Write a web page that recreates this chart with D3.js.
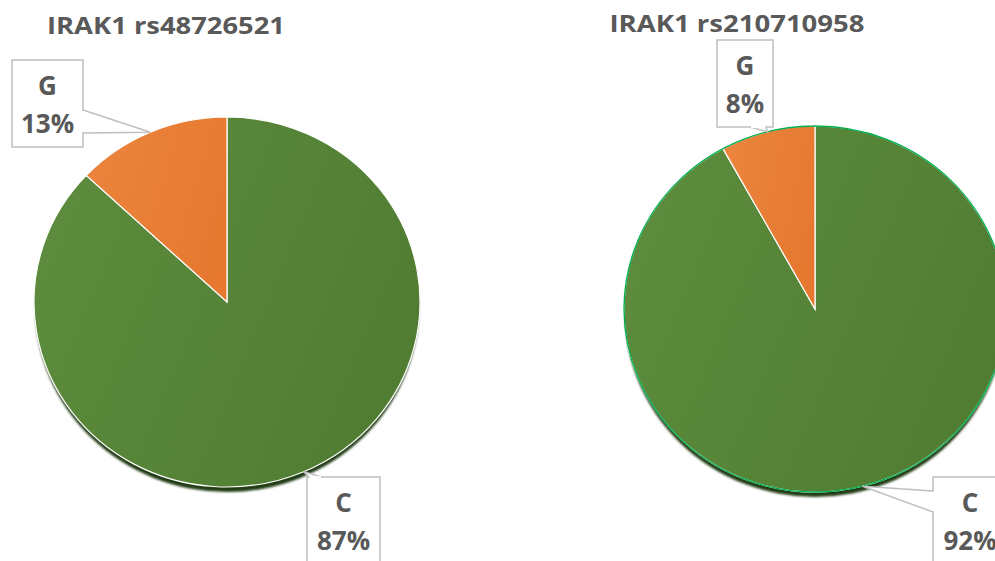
<!DOCTYPE html>
<html>
<head>
<meta charset="utf-8">
<script src="https://cdnjs.cloudflare.com/ajax/libs/d3/7.8.5/d3.min.js"></script>
<style>
  body { margin: 0; background: #fff; }
  svg { display: block; }
  text { font-family: "Open Sans", Lato, sans-serif; font-weight: bold; fill: #595959; }
</style>
</head>
<body>
<script>
// data
var titles = ["IRAK1 rs48726521", "IRAK1 rs210710958"];
var alleles = ["C", "G"];
var valuesLeft = [87, 13];
var valuesRight = [92, 8];

var W = 995, H = 561;
var svg = d3.select("body").append("svg").attr("width", W).attr("height", H);
var defs = svg.append("defs");

function grad(id, c1, c2) {
    var g = defs.append("linearGradient").attr("id", id)
        .attr("x1", "0%").attr("y1", "30%").attr("x2", "100%").attr("y2", "70%");
    g.append("stop").attr("offset", "0%").attr("stop-color", c1);
    g.append("stop").attr("offset", "100%").attr("stop-color", c2);
}
grad("gGreen", "#5d8c3e", "#4f7c31");
grad("gOrange", "#eb843d", "#e6782f");
defs.append("filter").attr("id", "soft").append("feGaussianBlur").attr("stdDeviation", 0.8);

var fills = { C: "url(#gGreen)", G: "url(#gOrange)" };

// layout per chart (positions only)
var charts = [
    { title: titles[0], values: valuesLeft, cx: 227, cy: 302, rx: 193, ry: 185, tx: 166, ty: 34, tw: 238, outline: "#ffffff",
      boxes: {
        G: { x: 12, y: 60, w: 71, h: 87, side: "right", b1: 110, b2: 133 },
        C: { x: 307, y: 477, w: 73, h: 100, side: "top", b1: 309, b2: 322 }
      } },
    { title: titles[1], values: valuesRight, cx: 815, cy: 309, rx: 191, ry: 183, tx: 737, ty: 32, tw: 255, outline: "#00b050",
      boxes: {
        G: { x: 717, y: 40, w: 56, h: 87, side: "bottom", b1: 750, b2: 766 },
        C: { x: 933, y: 477, w: 80, h: 100, side: "left", b1: 491, b2: 512 }
      } }
];

var pie = d3.pie().sort(null).value(function(d) { return d.v; });

charts.forEach(function(ch) {
    var k = ch.ry / ch.rx;
    var data = alleles.map(function(a, i) { return { a: a, v: ch.values[i] }; });
    var arcs = pie(data);
    var arc = d3.arc().innerRadius(0).outerRadius(ch.rx);

    svg.append("text").attr("x", ch.tx).attr("y", ch.ty)
        .attr("text-anchor", "middle").style("font-size", "24px")
        .attr("textLength", ch.tw).attr("lengthAdjust", "spacingAndGlyphs")
        .text(ch.title);

    // shadow
    svg.append("ellipse").attr("cx", ch.cx).attr("cy", ch.cy + 5)
        .attr("rx", ch.rx - 1).attr("ry", ch.ry)
        .attr("fill", "#233d14").attr("filter", "url(#soft)");

    var g = svg.append("g")
        .attr("transform", "translate(" + ch.cx + "," + ch.cy + ") scale(1," + k + ")");

    g.selectAll("path.slice").data(arcs).enter().append("path")
        .attr("class", "slice")
        .attr("d", arc)
        .attr("fill", function(d) { return fills[d.data.a]; })
        .attr("stroke", "#ffffff").attr("stroke-width", 1.2)
        .attr("vector-effect", "non-scaling-stroke");

    if (ch.outline !== "#ffffff") {
        g.append("circle").attr("r", ch.rx).attr("fill", "none")
            .attr("stroke", ch.outline).attr("stroke-width", 1.3)
            .attr("vector-effect", "non-scaling-stroke");
    }

    // callouts
    arcs.forEach(function(d) {
        var b = ch.boxes[d.data.a];
        var mid = (d.startAngle + d.endAngle) / 2;
        var tip = [ch.cx + ch.rx * Math.sin(mid), ch.cy - ch.ry * Math.cos(mid)];
        var p1, p2;
        if (b.side === "right") { p1 = [b.x + b.w, b.b1]; p2 = [b.x + b.w, b.b2]; }
        else if (b.side === "left") { p1 = [b.x, b.b1]; p2 = [b.x, b.b2]; }
        else if (b.side === "top") { p1 = [b.b1, b.y]; p2 = [b.b2, b.y]; }
        else { p1 = [b.b1, b.y + b.h]; p2 = [b.b2, b.y + b.h]; }

        svg.append("rect").attr("x", b.x).attr("y", b.y).attr("width", b.w).attr("height", b.h)
            .attr("fill", "#fff").attr("stroke", "#bfbfbf").attr("stroke-width", 1.5);
        svg.append("path").attr("d", d3.line()([p1, tip, p2]))
            .attr("fill", "#fff").attr("stroke", "#bfbfbf").attr("stroke-width", 1.5);
        var dx = p2[0] - p1[0], dy = p2[1] - p1[1], L = Math.hypot(dx, dy);
        var ux = dx / L, uy = dy / L;
        svg.append("line")
            .attr("x1", p1[0] + ux * 1).attr("y1", p1[1] + uy * 1)
            .attr("x2", p2[0] - ux * 1).attr("y2", p2[1] - uy * 1)
            .attr("stroke", "#fff").attr("stroke-width", 2.2);

        var tcx = b.x + b.w / 2;
        if (b.x + b.w > W) tcx = b.x + 37;
        var pct = Math.round(d.data.v / d3.sum(ch.values) * 100) + "%";
        svg.append("text").attr("x", tcx).attr("y", b.y + 35)
            .attr("text-anchor", "middle").style("font-size", "26px").text(d.data.a);
        svg.append("text").attr("x", tcx).attr("y", b.y + 73)
            .attr("text-anchor", "middle").style("font-size", "26px").text(pct);
    });
});
</script>
</body>
</html>
